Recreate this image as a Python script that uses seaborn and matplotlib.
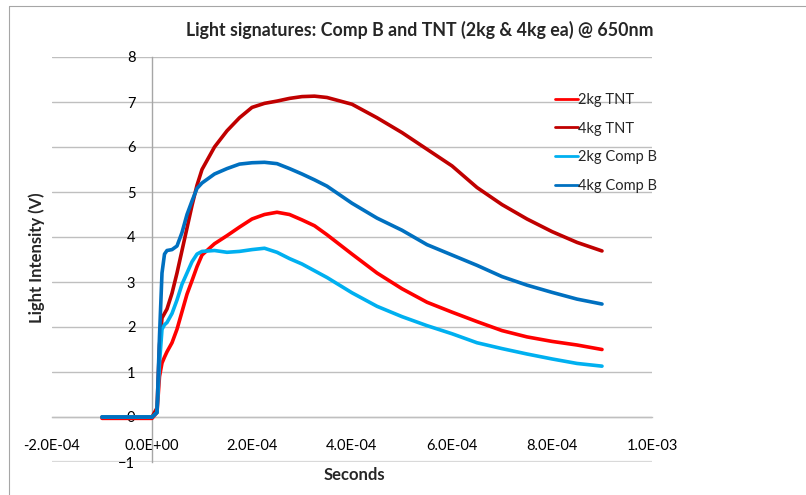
import numpy as np
import pandas as pd
import matplotlib
matplotlib.use("Agg")
import matplotlib.pyplot as plt
import seaborn as sns
from matplotlib.lines import Line2D

# time base (seconds) shared by all four traces
t = [-1e-4, 0, 1e-5, 1.5e-5, 2e-5, 2.5e-5, 3e-5, 4e-5, 5e-5, 6e-5, 7e-5, 8e-5, 9e-5,
     1e-4, 1.25e-4, 1.5e-4, 1.75e-4, 2e-4, 2.25e-4, 2.5e-4, 2.75e-4, 3e-4, 3.25e-4,
     3.5e-4, 4e-4, 4.5e-4, 5e-4, 5.5e-4, 6e-4, 6.5e-4, 7e-4, 7.5e-4, 8e-4, 8.5e-4, 9e-4]

tnt_2kg = [-0.03, -0.03, 0.1, 0.9, 1.2, 1.33, 1.45, 1.65, 1.95, 2.34, 2.73, 3.03, 3.34,
           3.6, 3.85, 4.03, 4.22, 4.4, 4.5, 4.55, 4.5, 4.38, 4.25,
           4.05, 3.62, 3.2, 2.85, 2.55, 2.33, 2.12, 1.92, 1.78, 1.68, 1.6, 1.5]

tnt_4kg = [0.0, 0.0, 0.2, 1.6, 2.2, 2.3, 2.4, 2.75, 3.2, 3.7, 4.2, 4.7, 5.15,
           5.5, 6.0, 6.36, 6.65, 6.88, 6.97, 7.02, 7.08, 7.12, 7.13,
           7.1, 6.95, 6.65, 6.32, 5.95, 5.58, 5.1, 4.72, 4.4, 4.12, 3.88, 3.69]

compb_2kg = [0.0, 0.0, 0.1, 1.2, 1.95, 2.05, 2.1, 2.3, 2.6, 2.95, 3.2, 3.45, 3.62,
             3.68, 3.7, 3.66, 3.68, 3.72, 3.75, 3.66, 3.52, 3.4, 3.25,
             3.1, 2.76, 2.46, 2.23, 2.03, 1.85, 1.65, 1.52, 1.4, 1.29, 1.19, 1.13]

compb_4kg = [0.0, 0.0, 0.1, 1.8, 3.2, 3.62, 3.7, 3.72, 3.8, 4.1, 4.5, 4.8, 5.08,
             5.2, 5.4, 5.52, 5.62, 5.65, 5.66, 5.63, 5.52, 5.4, 5.27,
             5.13, 4.75, 4.42, 4.15, 3.83, 3.6, 3.37, 3.12, 2.93, 2.77, 2.62, 2.51]

series = ["2kg TNT", "4kg TNT", "2kg Comp B", "4kg Comp B"]
colors = ["#FF0000", "#C00000", "#00B0F0", "#0070C0"]
x_ticks = [-2e-4, 0, 2e-4, 4e-4, 6e-4, 8e-4, 1e-3]
x_labels = ["-2.0E-04", "0.0E+00", "2.0E-04", "4.0E-04", "6.0E-04", "8.0E-04", "1.0E-03"]

df = pd.concat([
    pd.DataFrame({"t": t, "v": vals, "series": name})
    for name, vals in zip(series, [tnt_2kg, tnt_4kg, compb_2kg, compb_4kg])
])

sns.set_theme(style="white")
plt.rcParams["font.family"] = ["Lato", "DejaVu Sans"]

fig = plt.figure(figsize=(8.06, 4.95), dpi=100)
ax = fig.add_axes([52 / 806, 33 / 495, 600 / 806, 405 / 495])

# horizontal gridlines
for yv in range(-1, 9):
    ax.axhline(yv, color="#d9d9d9" if yv == -1 else "#bfbfbf",
               lw=1.6 if yv == -1 else 1.0, zorder=0)

sns.lineplot(data=df, x="t", y="v", hue="series", hue_order=series,
             palette=colors, linewidth=2.6, ax=ax, sort=False, legend=False, zorder=3)

ax.set_xlim(-2e-4, 1e-3)
ax.set_ylim(-1, 8)
ax.set_xticks(x_ticks)
ax.set_xticklabels(x_labels)
ax.set_yticks(range(-1, 9))

for s in ["top", "right"]:
    ax.spines[s].set_visible(False)
ax.spines["left"].set_position(("data", 0))
ax.spines["bottom"].set_position(("data", 0))
ax.spines["left"].set_color("#a6a6a6")
ax.spines["bottom"].set_color("#bfbfbf")
for s in ["left", "bottom"]:
    ax.spines[s].set_linewidth(1.0)
    ax.spines[s].set_zorder(1)

ax.tick_params(axis="x", length=0, pad=16, labelsize=10.5, colors="#000000")
ax.tick_params(axis="y", length=0, pad=12, labelsize=10.5, colors="#000000")
ax.set_xlabel("")
ax.set_ylabel("")

fig.text(420 / 806, 1 - 30 / 495, "Light signatures: Comp B and TNT (2kg & 4kg ea) @ 650nm",
         ha="center", va="center", fontsize=12.8, fontweight="bold")
fig.text(37 / 806, 1 - 258 / 495, "Light Intensity (V)", rotation=90,
         ha="center", va="center", fontsize=12, fontweight="bold")
fig.text(354 / 806, 1 - 475 / 495, "Seconds", ha="center", va="center",
         fontsize=12, fontweight="bold")

handles = [Line2D([0], [0], color=c, lw=2.0) for c in colors]
leg = fig.legend(handles, series, loc="upper left",
                 bbox_to_anchor=(555 / 806, 1 - 93 / 495), frameon=False,
                 fontsize=10.5, handlelength=1.55, handletextpad=0.05,
                 labelspacing=1.0, borderpad=0, borderaxespad=0)

# chart area border (top and left edges visible in the crop)
fig.add_artist(Line2D([9 / 806, 1], [1 - 6 / 495, 1 - 6 / 495], color="#a6a6a6", lw=0.8))
fig.add_artist(Line2D([9 / 806, 9 / 806], [0, 1 - 6 / 495], color="#a6a6a6", lw=0.8))

fig.savefig("out.png", dpi=100)
